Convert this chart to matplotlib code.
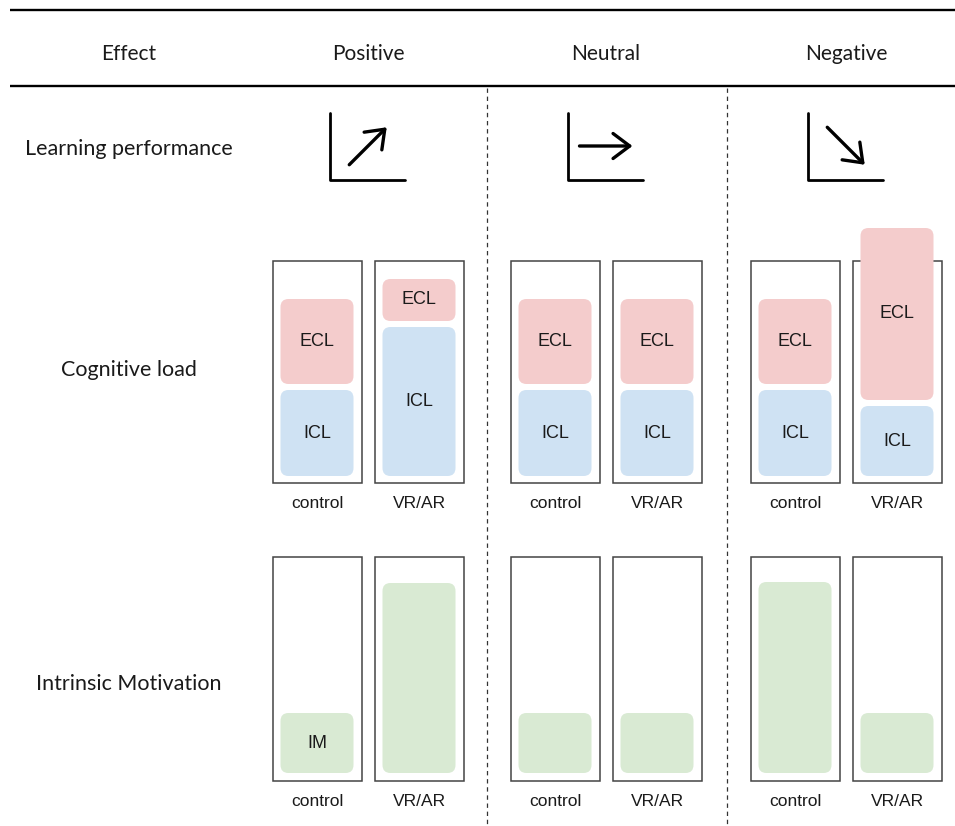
import matplotlib
matplotlib.use("Agg")
import matplotlib.pyplot as plt
from matplotlib.patches import FancyBboxPatch, Rectangle
import numpy as np

# ---------------- data ----------------
effects = ["Positive", "Neutral", "Negative"]
conditions = ["control", "VR/AR"]
row_labels = ["Learning performance", "Cognitive load", "Intrinsic Motivation"]
header_first = "Effect"

# learning-performance trend (arrow angle in degrees)
trend_angle = [45, 0, -45]

# cognitive load heights [control, VR/AR] per effect
icl_load = [[86, 149], [86, 86], [86, 70]]
ecl_load = [[85, 42], [85, 85], [85, 172]]

# intrinsic motivation heights [control, VR/AR] per effect
im_level = [[60, 190], [60, 60], [191, 60]]

# ---------------- styling / layout ----------------
W, H = 955, 826
col_centers = [368, 606, 846]
label_x = 129
header_y = 54
row_y = [149, 370, 684]
cond_offset = [-51, 51]
box_w, bar_w = 89, 73
cl_box = (261, 483)      # top, bottom
im_box = (557, 781)
pad_bottom = 7
gap = 6
radius = 8

C_ECL = "#f4cccc"
C_ICL = "#cfe2f3"
C_IM = "#d9ead3"
C_BORDER = "#444444"
TXT = "#1a1a1a"

head_font = "Lato"
box_font = "Liberation Sans"

fig = plt.figure(figsize=(W / 100, H / 100), dpi=100)
ax = fig.add_axes([0, 0, 1, 1])
ax.set_xlim(0, W)
ax.set_ylim(H, 0)
ax.axis("off")

# horizontal rules
ax.plot([10, W], [10, 10], color="black", lw=1.7, solid_capstyle="butt")
ax.plot([10, W], [86, 86], color="black", lw=1.7, solid_capstyle="butt")

# dashed separators
for xs in [487, 727]:
    ax.plot([xs, xs], [88, H], color="#333333", lw=0.9, ls=(0, (3.5, 3)))

# headers
ax.text(label_x, header_y, header_first, ha="center", va="center",
        fontsize=15, family=head_font, color=TXT)
for cx, name in zip(col_centers, effects):
    ax.text(cx, header_y, name, ha="center", va="center",
            fontsize=15, family=head_font, color=TXT)

# row labels
for ry, name in zip(row_y, row_labels):
    ax.text(label_x, ry, name, ha="center", va="center",
            fontsize=15.5, family=head_font, color=TXT)

# learning performance icons
for cx, ang in zip(col_centers, trend_angle):
    x0, x1 = cx - 38, cx + 37
    y0, y1 = 113, 180
    ax.plot([x0, x0, x1], [y0, y1, y1], color="black", lw=2,
            solid_capstyle="round", solid_joinstyle="round")
    L = 53
    a = np.deg2rad(ang)
    dx, dy = L / 2 * np.cos(a), -L / 2 * np.sin(a)
    mx, my = cx, 146
    ax.annotate("", xy=(mx + dx, my + dy), xytext=(mx - dx, my - dy),
                arrowprops=dict(arrowstyle="->,head_length=0.6,head_width=0.45",
                                lw=2.4, color="black", shrinkA=0, shrinkB=0,
                                mutation_scale=20, capstyle="round",
                                joinstyle="round"))


def rbox(x_center, y_top, h, color):
    p = FancyBboxPatch((x_center - bar_w / 2, y_top), bar_w, h,
                       boxstyle=f"round,pad=0,rounding_size={radius}",
                       facecolor=color, edgecolor="none", zorder=3)
    ax.add_patch(p)


def frame(x_center, top, bottom):
    r = Rectangle((x_center - box_w / 2, top), box_w, bottom - top,
                  facecolor="none", edgecolor=C_BORDER, lw=1.1, zorder=2)
    ax.add_patch(r)


# cognitive load
for i, cx in enumerate(col_centers):
    for j, off in enumerate(cond_offset):
        x = cx + off
        frame(x, *cl_box)
        base = cl_box[1] - pad_bottom
        icl = icl_load[i][j]
        ecl = ecl_load[i][j]
        icl_top = base - icl
        rbox(x, icl_top, icl, C_ICL)
        ecl_bottom = icl_top - gap
        rbox(x, ecl_bottom - ecl, ecl, C_ECL)
        ax.text(x, base - icl / 2, "ICL", ha="center", va="center",
                fontsize=13, family=box_font, color=TXT, zorder=4)
        ax.text(x, ecl_bottom - ecl / 2, "ECL", ha="center", va="center",
                fontsize=13, family=box_font, color=TXT, zorder=4)
        ax.text(x, cl_box[1] + 21, conditions[j], ha="center", va="center",
                fontsize=12.5, family=box_font, color=TXT)

# intrinsic motivation
for i, cx in enumerate(col_centers):
    for j, off in enumerate(cond_offset):
        x = cx + off
        frame(x, *im_box)
        base = im_box[1] - 8
        h = im_level[i][j]
        rbox(x, base - h, h, C_IM)
        if i == 0 and j == 0:
            ax.text(x, base - h / 2, "IM", ha="center", va="center",
                    fontsize=13, family=box_font, color=TXT, zorder=4)
        ax.text(x, im_box[1] + 21, conditions[j], ha="center", va="center",
                fontsize=12.5, family=box_font, color=TXT)

fig.savefig("out.png", dpi=100)
